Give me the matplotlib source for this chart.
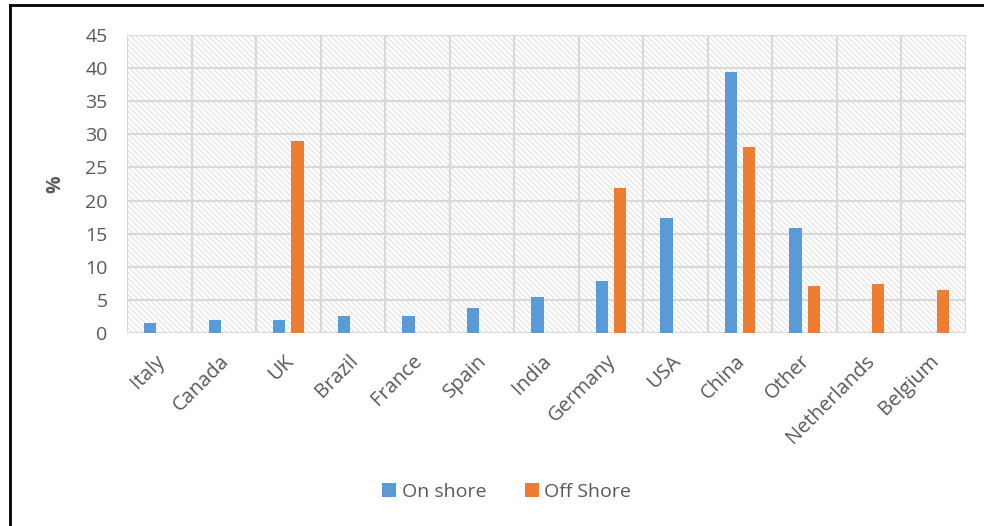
import matplotlib
matplotlib.use("Agg")
import matplotlib.pyplot as plt
import numpy as np
from matplotlib.patches import Rectangle
from matplotlib.lines import Line2D
import matplotlib.transforms as mtransforms

categories = ["Italy", "Canada", "UK", "Brazil", "France", "Spain", "India",
              "Germany", "USA", "China", "Other", "Netherlands", "Belgium"]
on_shore = [1.5, 2.0, 2.0, 2.6, 2.6, 3.8, 5.5, 7.8, 17.3, 39.4, 15.9, 0, 0]
off_shore = [0, 0, 29.0, 0, 0, 0, 0, 21.95, 0, 28.1, 7.1, 7.45, 6.45]
yticks = [0, 5, 10, 15, 20, 25, 30, 35, 40, 45]

plt.rcParams['font.family'] = ['Open Sans', 'DejaVu Sans']
plt.rcParams['hatch.linewidth'] = 0.8
plt.rcParams['hatch.color'] = '#e2e2e2'

fig = plt.figure(figsize=(9.84, 5.26), dpi=100)
ax = fig.add_axes([127/984, 1 - 333/526, (966-127)/984, (333-35)/526])

# hatched background
bg = Rectangle((0, 0), 1, 1, transform=ax.transAxes, facecolor='white',
               edgecolor='#e2e2e2', hatch='\\' * 6, linewidth=0, zorder=0)
ax.add_patch(bg)

x = np.arange(len(categories))
w = 0.19
off = 0.14
ax.bar(x - off, on_shore, w, color='#5b9bd5', label='On shore', zorder=3)
ax.bar(x + off, off_shore, w, color='#ed7d31', label='Off Shore', zorder=3)

ax.set_xlim(-0.5, len(categories) - 0.5)
ax.set_ylim(0, 45)
ax.set_yticks(yticks)
ax.set_yticklabels([str(t) for t in yticks], fontsize=14, color='#595959')
ax.set_xticks(x)
ax.set_xticklabels(categories, rotation=45, ha='right', va='top',
                   rotation_mode='anchor', fontsize=14.5, color='#595959')
ax.tick_params(axis='both', length=0)
ax.tick_params(axis='y', pad=14)
ax.tick_params(axis='x', pad=8)
shift = mtransforms.ScaledTranslation(-5/100, -7/100, fig.dpi_scale_trans)
for lbl in ax.get_xticklabels():
    lbl.set_transform(lbl.get_transform() + shift)

for v in np.arange(-0.5, len(categories), 1.0):
    ax.axvline(v, color='#d9d9d9', lw=1.6, zorder=1)
for t in yticks:
    ax.axhline(t, color='#d9d9d9', lw=1.6, zorder=1)
for s in ax.spines.values():
    s.set_visible(False)

ax.set_ylabel('%', fontsize=14, fontweight='bold', color='#595959', labelpad=14)

fig.legend(loc='center', bbox_to_anchor=(0.515, 0.065), ncol=2, frameon=False,
           fontsize=14, handlelength=0.7, handleheight=0.7, handletextpad=0.3,
           columnspacing=2.0, labelcolor='#595959')

# figure border (left and top)
fig.add_artist(Line2D([9.5/984, 9.5/984], [0, 1 - 5/526], transform=fig.transFigure,
                      color='black', lw=2))
fig.add_artist(Line2D([9.5/984, 1], [1 - 5/526, 1 - 5/526], transform=fig.transFigure,
                      color='black', lw=2))

fig.savefig('out.png', dpi=100)
